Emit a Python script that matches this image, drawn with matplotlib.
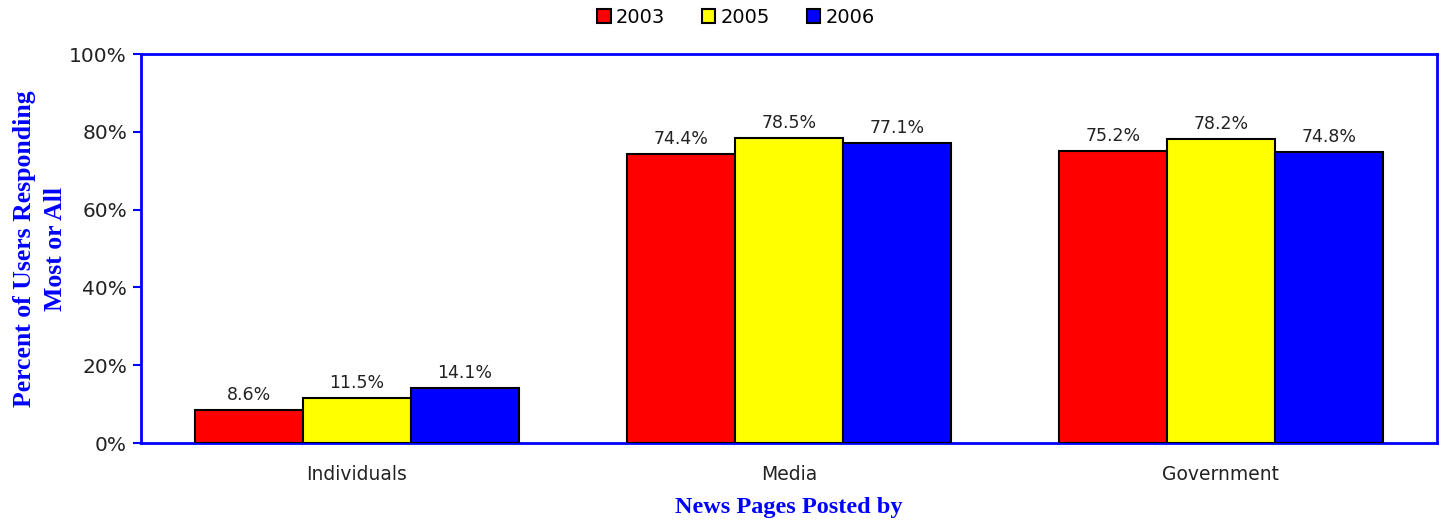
import numpy as np
import matplotlib.pyplot as plt
from matplotlib.ticker import PercentFormatter

categories = ["Individuals", "Media", "Government"]
years = ["2003", "2005", "2006"]
vals_2003 = [8.6, 74.4, 75.2]
vals_2005 = [11.5, 78.5, 78.2]
vals_2006 = [14.1, 77.1, 74.8]
colors = ["#ff0000", "#ffff00", "#0000ff"]

fig = plt.figure(figsize=(14.41, 5.2), dpi=100)
ax = fig.add_axes([0.0978, 0.148, 0.8994, 0.748])

x = np.arange(len(categories))
width = 0.25
for i, (vals, yr, c) in enumerate(zip([vals_2003, vals_2005, vals_2006], years, colors)):
    pos = x + (i - 1) * width
    bars = ax.bar(pos, vals, width, color=c, edgecolor="black", linewidth=1.5,
                  label=yr, zorder=3)
    for b, v in zip(bars, vals):
        ax.text(b.get_x() + b.get_width() / 2, v + 1.5, f"{v:.1f}%",
                ha="center", va="bottom", fontsize=12.5, color="#222222",
                fontfamily="DejaVu Sans")

ax.set_xlim(-0.5, 2.5)
ax.set_ylim(0, 100)
ax.set_yticks([0, 20, 40, 60, 80, 100])
ax.yaxis.set_major_formatter(PercentFormatter(decimals=0))
ax.set_xticks(x)
ax.set_xticklabels(categories, fontsize=13.5)
ax.tick_params(axis="x", length=0, pad=16)
ax.tick_params(axis="y", length=6, width=1.5, color="#0000ff", labelsize=14.5, pad=4)
for lbl in ax.get_yticklabels() + ax.get_xticklabels():
    lbl.set_color("#222222")
for s in ax.spines.values():
    s.set_color("#0000ff")
    s.set_linewidth(2)

ax.set_ylabel("Percent of Users Responding\nMost or All", fontsize=18.5,
              fontweight="bold", color="#0000ff", fontfamily="Liberation Serif",
              labelpad=2, linespacing=1.4)
ax.set_xlabel("News Pages Posted by", fontsize=17.5, fontweight="bold",
              color="#0000ff", fontfamily="Liberation Serif", labelpad=9)

leg = ax.legend(loc="lower center", bbox_to_anchor=(0.459, 1.07), ncol=3,
                frameon=False, fontsize=14, handlelength=0.7, handleheight=0.7,
                handletextpad=0.25, columnspacing=1.9, borderaxespad=0.0,
                borderpad=0.0)

fig.savefig("out.png", dpi=100)
